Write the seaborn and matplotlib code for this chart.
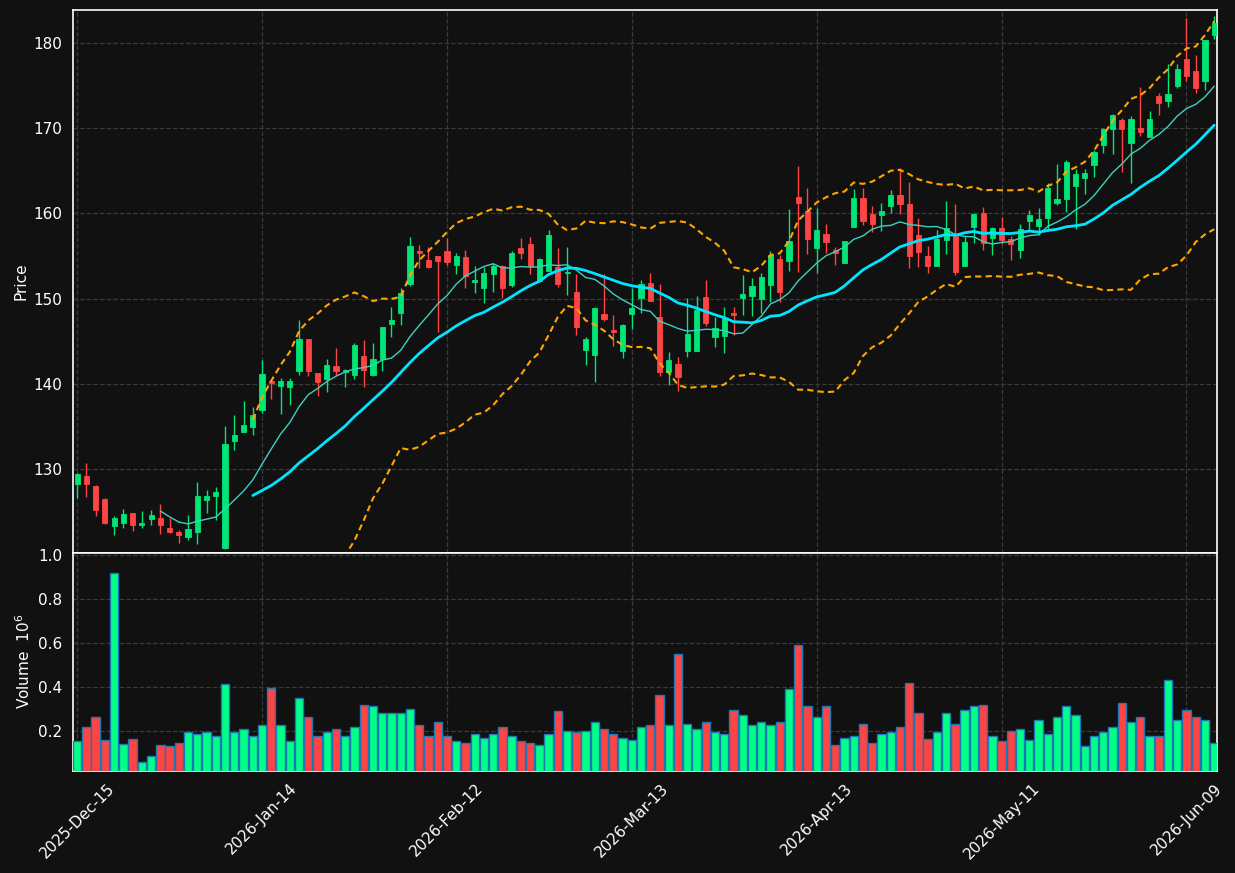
import numpy as np
import pandas as pd
import matplotlib
matplotlib.use("Agg")
import matplotlib.pyplot as plt
import seaborn as sns

# ---------------- data ----------------
opens = [128.24, 129.17, 127.92, 126.48, 123.23, 123.66, 124.83, 123.35, 124.13, 124.25,
         123.07, 122.60, 121.94, 122.52, 126.28, 126.83, 120.65, 133.20, 134.26, 134.85,
         136.93, 140.33, 139.67, 139.55, 141.43, 145.26, 141.23, 140.53, 142.09, 141.31,
         141.04, 143.27, 140.96, 142.92, 147.02, 148.24, 151.72, 155.59, 154.54, 155.00,
         155.59, 153.95, 154.89, 151.99, 151.29, 152.85, 153.83, 151.60, 155.94, 156.41,
         152.07, 153.24, 153.75, 152.97, 150.82, 143.97, 143.31, 148.20, 146.32, 143.78,
         148.20, 150.11, 151.79, 147.80, 141.31, 142.28, 143.89, 143.85, 150.23, 145.53,
         145.65, 148.27, 150.11, 150.34, 149.95, 151.59, 154.65, 154.45, 161.92, 160.28,
         155.98, 157.54, 155.67, 154.22, 158.44, 161.77, 159.93, 159.81, 160.87, 162.16,
         161.10, 157.47, 155.00, 153.83, 156.88, 157.35, 153.87, 158.44, 160.05, 157.15,
         158.25, 156.96, 155.70, 159.14, 158.52, 159.50, 161.18, 161.69, 163.25, 164.19,
         165.68, 168.02, 169.90, 170.96, 168.30, 169.98, 169.00, 173.78, 173.23, 174.95,
         178.20, 176.71, 175.58, 180.94]
highs = [129.50, 130.66, 128.08, 126.50, 124.40, 125.26, 124.83, 125.07, 125.18, 125.89,
         124.17, 122.84, 124.60, 128.43, 127.53, 127.88, 135.00, 136.33, 137.94, 137.23,
         142.72, 140.40, 140.65, 140.65, 147.49, 145.30, 141.23, 142.88, 144.17, 141.70,
         144.75, 145.15, 144.75, 146.70, 148.98, 151.21, 157.20, 156.30, 156.02, 155.00,
         157.16, 155.32, 155.67, 153.87, 153.75, 154.22, 153.90, 155.60, 157.12, 157.20,
         154.73, 158.06, 155.90, 156.02, 152.85, 145.53, 149.05, 152.89, 148.08, 146.98,
         151.21, 152.19, 152.96, 151.67, 143.77, 143.10, 150.03, 150.34, 152.18, 147.80,
         149.05, 149.00, 152.77, 152.38, 152.96, 155.59, 155.12, 160.48, 165.56, 162.94,
         160.67, 158.71, 156.02, 156.80, 162.83, 162.94, 160.87, 161.18, 162.75, 165.29,
         163.73, 159.42, 156.17, 158.05, 161.50, 161.10, 157.20, 160.09, 160.79, 158.44,
         159.54, 157.35, 158.71, 160.40, 160.59, 163.53, 165.79, 166.27, 165.17, 165.17,
         167.44, 169.98, 171.74, 171.27, 171.43, 174.87, 172.02, 174.20, 177.53, 177.61,
         183.01, 178.67, 180.35, 183.17]
lows = [126.55, 126.67, 124.40, 123.54, 122.17, 122.99, 122.64, 122.99, 123.35, 122.33,
        122.50, 121.27, 121.62, 121.15, 124.79, 123.93, 120.60, 132.15, 134.26, 133.95,
        136.50, 138.18, 136.42, 137.48, 141.04, 140.85, 138.49, 138.96, 141.04, 139.59,
        140.53, 139.59, 140.85, 141.43, 145.46, 146.87, 151.45, 153.56, 153.56, 146.01,
        153.95, 152.85, 151.29, 150.62, 149.45, 150.74, 150.03, 151.40, 154.61, 152.85,
        151.90, 153.24, 151.40, 150.43, 145.73, 142.21, 140.20, 147.30, 144.44, 142.99,
        146.44, 148.27, 149.76, 140.84, 139.86, 139.19, 143.10, 143.80, 146.78, 144.28,
        143.57, 145.73, 148.07, 148.00, 148.35, 149.64, 149.64, 153.28, 153.16, 155.19,
        153.04, 155.31, 153.94, 154.20, 158.40, 158.64, 157.86, 157.97, 160.01, 159.93,
        153.55, 153.67, 153.05, 153.80, 155.24, 152.77, 153.80, 156.49, 155.71, 155.08,
        156.37, 154.53, 154.80, 158.05, 157.46, 158.05, 160.98, 160.20, 158.13, 162.27,
        164.31, 167.05, 166.93, 164.90, 163.60, 169.08, 168.93, 171.62, 172.52, 174.68,
        175.54, 174.17, 174.48, 180.54]
closes = [129.41, 128.24, 125.18, 123.66, 124.25, 124.71, 123.35, 123.66, 124.52, 123.35,
          122.52, 122.17, 122.95, 126.75, 126.75, 127.22, 132.93, 133.99, 135.16, 136.33,
          141.16, 140.06, 140.33, 140.33, 145.26, 141.43, 140.14, 142.21, 141.43, 141.55,
          144.56, 141.55, 142.92, 146.67, 147.49, 150.62, 156.18, 155.40, 153.75, 154.46,
          154.34, 155.00, 152.66, 152.23, 153.01, 153.83, 151.29, 155.36, 155.36, 153.83,
          154.65, 157.47, 151.72, 153.16, 146.71, 145.26, 148.94, 147.61, 146.01, 146.90,
          148.94, 151.68, 149.76, 141.42, 142.79, 140.72, 145.84, 148.66, 147.17, 146.51,
          147.68, 148.07, 150.54, 151.48, 152.57, 155.12, 150.81, 156.76, 161.26, 156.99,
          158.05, 156.64, 155.39, 156.76, 161.77, 159.15, 158.76, 160.28, 162.16, 161.10,
          155.00, 155.51, 153.83, 157.00, 158.25, 153.16, 156.64, 159.93, 156.49, 158.25,
          156.88, 156.41, 158.13, 159.81, 159.34, 162.94, 161.69, 166.03, 164.62, 164.78,
          167.24, 169.90, 171.55, 169.90, 171.15, 169.59, 171.08, 172.99, 174.01, 177.02,
          176.12, 174.79, 180.35, 182.38]
volumes = [0.153, 0.214, 0.260, 0.159, 0.919, 0.140, 0.163, 0.058, 0.085, 0.136,
           0.131, 0.145, 0.191, 0.182, 0.191, 0.173, 0.411, 0.191, 0.205, 0.173,
           0.227, 0.392, 0.223, 0.154, 0.347, 0.260, 0.173, 0.191, 0.205, 0.173,
           0.214, 0.315, 0.310, 0.278, 0.282, 0.282, 0.300, 0.227, 0.173, 0.237,
           0.173, 0.154, 0.145, 0.182, 0.168, 0.182, 0.218, 0.177, 0.154, 0.145,
           0.136, 0.182, 0.287, 0.200, 0.191, 0.200, 0.241, 0.209, 0.182, 0.168,
           0.159, 0.214, 0.227, 0.363, 0.223, 0.548, 0.232, 0.209, 0.237, 0.195,
           0.186, 0.292, 0.269, 0.223, 0.237, 0.227, 0.237, 0.388, 0.589, 0.310,
           0.260, 0.310, 0.136, 0.168, 0.173, 0.232, 0.145, 0.182, 0.191, 0.214,
           0.415, 0.278, 0.163, 0.195, 0.278, 0.232, 0.296, 0.310, 0.315, 0.173,
           0.154, 0.200, 0.209, 0.159, 0.246, 0.182, 0.260, 0.310, 0.273, 0.131,
           0.177, 0.195, 0.218, 0.324, 0.237, 0.260, 0.177, 0.177, 0.429, 0.250,
           0.292, 0.260, 0.246, 0.145]
tick_labels = ["2025-Dec-15", "2026-Jan-14", "2026-Feb-12", "2026-Mar-13",
               "2026-Apr-13", "2026-May-11", "2026-Jun-09"]
tick_step = 20
ma_short, ma_long, bb_window, bb_k = 10, 20, 20, 2

# ---------------- derived ----------------
df = pd.DataFrame({"Open": opens, "High": highs, "Low": lows,
                   "Close": closes, "Volume": volumes})
df["idx"] = np.arange(len(df))
df["ma10"] = df["Close"].rolling(ma_short).mean()
df["ma20"] = df["Close"].rolling(ma_long).mean()
std = df["Close"].rolling(bb_window).std()
df["bb_up"] = df["ma20"] + bb_k * std
df["bb_lo"] = df["ma20"] - bb_k * std
up = df["Close"] >= df["Open"]

BG = "#111111"
UP_C, DN_C = "#00e676", "#ff4444"
VUP_C, VDN_C = "#00ff88", "#ff4444"
GRID = "#3a3a3a"

sns.set_style("dark")
plt.rcParams.update({
    "font.family": ["DejaVu Sans"],
    "figure.facecolor": BG, "axes.facecolor": BG,
    "axes.edgecolor": "white", "text.color": "white",
    "axes.labelcolor": "white", "xtick.color": "white", "ytick.color": "white",
    "xtick.labelcolor": "#eeeeee", "ytick.labelcolor": "#eeeeee",
})

fig = plt.figure(figsize=(12.35, 8.73), dpi=100)
ax = fig.add_axes([0.0591, 0.3666, 0.9267, 0.6219])
axv = fig.add_axes([0.0591, 0.1174, 0.9267, 0.2492], sharex=ax)

# candles
body_w = 0.56
colors = np.where(up, UP_C, DN_C)
ax.vlines(df["idx"], df["Low"], df["High"], colors=colors, linewidth=1.0, zorder=3)
body_bot = np.minimum(df["Open"], df["Close"])
body_h = np.maximum(np.abs(df["Close"] - df["Open"]), 0.08)
ax.bar(df["idx"], body_h, bottom=body_bot, width=body_w, color=colors,
       edgecolor=colors, linewidth=0.6, zorder=4)

# moving averages & bands (seaborn)
sns.lineplot(data=df, x="idx", y="ma10", ax=ax, color="#3fd0c0", linewidth=1.0, zorder=5)
sns.lineplot(data=df, x="idx", y="ma20", ax=ax, color="#00e5ff", linewidth=2.0, zorder=5)
sns.lineplot(data=df, x="idx", y="bb_up", ax=ax, color="#ffa500", linewidth=1.5,
             linestyle=(0, (3, 2)), zorder=5)
sns.lineplot(data=df, x="idx", y="bb_lo", ax=ax, color="#ffa500", linewidth=1.5,
             linestyle=(0, (3, 2)), zorder=5)

# volume
vcolors = np.where(up, VUP_C, VDN_C)
axv.bar(df["idx"], df["Volume"], width=0.9, color=vcolors, edgecolor="#1f77b4",
        linewidth=1.0, zorder=3)

for a in (ax, axv):
    a.grid(True, color=GRID, linestyle="--", linewidth=0.9)
    a.set_axisbelow(True)
    for s in a.spines.values():
        s.set_color("white")
        s.set_linewidth(1.2)
    a.tick_params(axis="both", colors="white", labelsize=11, length=4)

ax.set_xlim(-0.45, len(df) - 0.65)
ax.set_ylim(120.1, 183.9)
ax.set_yticks([130, 140, 150, 160, 170, 180])
ax.set_ylabel("Price", fontsize=11)
ax.set_xlabel("")
ax.tick_params(axis="x", labelbottom=False)

axv.set_ylim(0.0174, 1.011)
axv.set_yticks([0.2, 0.4, 0.6, 0.8, 1.0])
axv.set_ylabel("Volume  $10^6$", fontsize=11)
tick_pos = list(range(0, len(df), tick_step))[:len(tick_labels)]
axv.set_xticks(tick_pos)
axv.set_xticklabels(tick_labels, rotation=45, ha="center", fontsize=11)
axv.set_xlabel("")

fig.savefig("out.png", dpi=100, facecolor=BG)
